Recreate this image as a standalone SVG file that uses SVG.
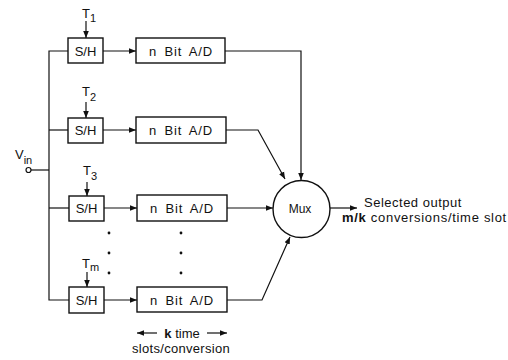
<svg xmlns="http://www.w3.org/2000/svg" width="508" height="360" viewBox="0 0 508 360">
<defs>
<marker id="ah" viewBox="0 0 10 10" refX="10" refY="5" markerWidth="7" markerHeight="7" markerUnits="userSpaceOnUse" orient="auto">
<path d="M0,1 L10,5 L0,9 Z" fill="#111"/>
</marker>
</defs>
<style>
rect.box{fill:#fff;stroke:#111;stroke-width:1.4}
.ln{fill:none;stroke:#111;stroke-width:1.2}
text{font-family:"Liberation Sans",Arial,sans-serif;fill:#111}
.lbl{font-size:13px;text-anchor:middle}
.ad{font-size:13px;text-anchor:middle;letter-spacing:0.8px;word-spacing:3px}
.t{font-size:13px}
.sub{font-size:11px}
</style>
<rect width="508" height="360" fill="#fff"/>
<g id="connectors">
<!-- input bus -->
<polyline class="ln" points="68,51 49,51 49,300 69,300"/>
<line class="ln" x1="49" y1="130" x2="69" y2="130"/>
<line class="ln" x1="49" y1="208" x2="69" y2="208"/>
<line class="ln" x1="31" y1="170" x2="49" y2="170"/>
<!-- clocks -->
<line class="ln" x1="86" y1="21" x2="86" y2="38" marker-end="url(#ah)"/>
<line class="ln" x1="86" y1="102" x2="86" y2="118" marker-end="url(#ah)"/>
<line class="ln" x1="87" y1="182" x2="87" y2="196" marker-end="url(#ah)"/>
<line class="ln" x1="87" y1="272" x2="87" y2="287" marker-end="url(#ah)"/>
<!-- S/H to A/D -->
<line class="ln" x1="103" y1="51" x2="136" y2="51" marker-end="url(#ah)"/>
<line class="ln" x1="103" y1="130" x2="136" y2="130" marker-end="url(#ah)"/>
<line class="ln" x1="104" y1="208" x2="137" y2="208" marker-end="url(#ah)"/>
<line class="ln" x1="104" y1="300" x2="137" y2="300" marker-end="url(#ah)"/>
<!-- A/D to Mux -->
<polyline class="ln" points="225,51 301,51 301,180" marker-end="url(#ah)"/>
<polyline class="ln" points="226,130 258,130 285,179" marker-end="url(#ah)"/>
<line class="ln" x1="227" y1="208" x2="273" y2="208" marker-end="url(#ah)"/>
<polyline class="ln" points="227,300 262,300 290,237" marker-end="url(#ah)"/>
<!-- output -->
<line class="ln" x1="330" y1="208" x2="357" y2="208" marker-end="url(#ah)"/>
<!-- k time arrows -->
<line class="ln" x1="157" y1="333" x2="137" y2="333" marker-end="url(#ah)"/>
<line class="ln" x1="207" y1="333" x2="227" y2="333" marker-end="url(#ah)"/>
</g>
<g id="vin">
<circle cx="28.5" cy="170" r="2.5" fill="#fff" stroke="#111" stroke-width="1.2"/>
<text class="t" x="15" y="159">V<tspan class="sub" dy="5">in</tspan></text>
</g>
<g id="sh1"><rect class="box" x="68" y="38" width="35" height="25"/><text class="lbl" x="85.5" y="55.5">S/H</text></g>
<g id="sh2"><rect class="box" x="68" y="118" width="35" height="25"/><text class="lbl" x="85.5" y="135">S/H</text></g>
<g id="sh3"><rect class="box" x="69" y="196" width="35" height="25"/><text class="lbl" x="86.5" y="213">S/H</text></g>
<g id="shm"><rect class="box" x="69" y="287" width="35" height="26"/><text class="lbl" x="86.5" y="305">S/H</text></g>
<g id="ad1"><rect class="box" x="136" y="38" width="89" height="25"/><text class="ad" x="181" y="55.5">n Bit A/D</text></g>
<g id="ad2"><rect class="box" x="136" y="117" width="90" height="26"/><text class="ad" x="181" y="135">n Bit A/D</text></g>
<g id="ad3"><rect class="box" x="137" y="195" width="90" height="26"/><text class="ad" x="182" y="213">n Bit A/D</text></g>
<g id="adm"><rect class="box" x="137" y="287" width="90" height="25"/><text class="ad" x="182" y="304.5">n Bit A/D</text></g>
<g id="clocks">
<text class="t" x="82" y="18">T<tspan class="sub" dy="4">1</tspan></text>
<text class="t" x="82" y="96">T<tspan class="sub" dy="5">2</tspan></text>
<text class="t" x="83" y="175">T<tspan class="sub" dy="5">3</tspan></text>
<text class="t" x="82" y="268">T<tspan class="sub" dy="3">m</tspan></text>
</g>
<g id="dots" fill="#111">
<circle cx="109" cy="233" r="1.4"/><circle cx="109" cy="253" r="1.4"/><circle cx="109" cy="273" r="1.4"/>
<circle cx="181" cy="233" r="1.4"/><circle cx="181" cy="253" r="1.4"/><circle cx="181" cy="273" r="1.4"/>
</g>
<g id="mux">
<circle cx="301.5" cy="209" r="28.5" fill="#fff" stroke="#111" stroke-width="1.4"/>
<text class="lbl" x="300" y="213" style="font-size:12px">Mux</text>
</g>
<g id="output">
<text class="t" x="364" y="207" style="letter-spacing:0.5px">Selected output</text>
<text class="t" x="342" y="222" style="letter-spacing:0.7px"><tspan font-weight="bold">m/k</tspan> conversions/time slot</text>
</g>
<g id="ktime">
<text class="lbl" x="182" y="338"><tspan font-weight="bold">k</tspan> time</text>
<text class="lbl" x="181" y="353" style="letter-spacing:0.3px">slots/conversion</text>
</g>
</svg>
